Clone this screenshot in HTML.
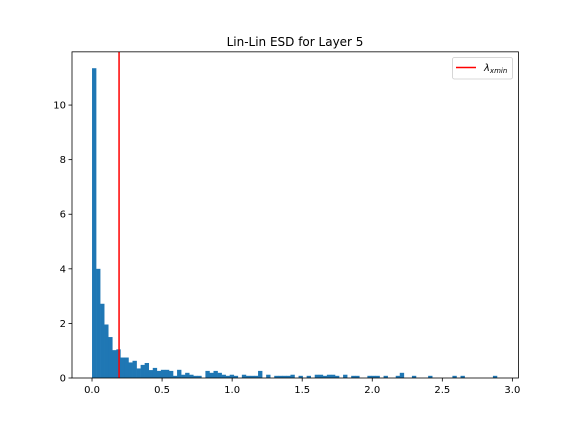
<!DOCTYPE html>
<html><head><meta charset="utf-8"><style>body{margin:0;background:#fff}svg{display:block;font-family:"DejaVu Sans","Liberation Sans",sans-serif}</style></head>
<body>
<svg id="chart" width="576" height="432" viewBox="0 0 576 432" xmlns="http://www.w3.org/2000/svg">
<rect width="576" height="432" fill="#fff"/>
<text x="295" y="46" text-anchor="middle" font-size="12">Lin-Lin ESD for Layer 5</text>
<g id="bars"></g>
<g id="axes"></g>
</svg>
<script>
const binStart = 0.0;
const binWidth = 0.0289;
const counts = [11.35,4.0,2.72,1.96,1.5,1.02,1.05,0.75,0.75,0.57,0.63,0.35,
0.48,0.55,0.29,0.37,0.26,0.30,0.30,0.26,0.08,0.30,0.12,0.19,0.12,0.08,0.08,0,
0.26,0.19,0.26,0.19,0.12,0.08,0.12,0.08,0,0.12,0.08,0.08,0.08,0.26,0,0.12,0,
0.08,0.08,0.08,0.08,0.12,0,0.08,0,0.08,0,0.12,0.12,0.08,0.12,0.12,0.08,0,0.12,0,
0.08,0.08,0,0,0.08,0.08,0.08,0,0.08,0,0,0.08,0.19,0,0,0.08,0,0,0,0.08,0,0,0,0,0,
0.08,0,0.08,0,0,0,0,0,0,0,0.08];
const xminValue = 0.193;
const xTicks = [0.0,0.5,1.0,1.5,2.0,2.5,3.0];
const xTickLabels = ["0.0","0.5","1.0","1.5","2.0","2.5","3.0"];
const yTicks = [0,2,4,6,8,10];
const yTickLabels = ["0","2","4","6","8","10"];

const L=72,R=518.4,T=51.84,B=378;
const xDomain=[-0.1429,3.043], yDomain=[0,11.95];
const sx=v=>L+(v-xDomain[0])/(xDomain[1]-xDomain[0])*(R-L);
const sy=v=>B-(v-yDomain[0])/(yDomain[1]-yDomain[0])*(B-T);
const NS="http://www.w3.org/2000/svg";
function mk(tag,attrs,parent){const e=document.createElementNS(NS,tag);for(const k in attrs)e.setAttribute(k,attrs[k]);parent.appendChild(e);return e;}
const bars=document.getElementById('bars'), axes=document.getElementById('axes');
counts.forEach((c,i)=>{
  if(c<=0)return;
  const x0=sx(binStart+i*binWidth), x1=sx(binStart+(i+1)*binWidth);
  const r=mk('rect',{x:x0,y:sy(c),width:x1-x0+0.3,height:sy(0)-sy(c),fill:'#1f77b4'},bars);
  
  
});
const vl=mk('line',{x1:sx(xminValue),x2:sx(xminValue),y1:T,y2:B,stroke:'#ff0000','stroke-width':1.5},axes);


const frame=mk('rect',{x:L,y:T,width:R-L,height:B-T,fill:'none',stroke:'#000','stroke-width':0.8},axes);


xTicks.forEach((t,i)=>{
  const x=sx(t);
  const tk=mk('line',{x1:x,x2:x,y1:B,y2:B+3.5,stroke:'#000','stroke-width':0.8},axes);
  
  
  const tx=mk('text',{x:x,y:B+15,'text-anchor':'middle','font-size':10},axes);
  tx.textContent=xTickLabels[i];
  
  
});
yTicks.forEach((t,i)=>{
  const y=sy(t);
  const tk=mk('line',{x1:L-3.5,x2:L,y1:y,y2:y,stroke:'#000','stroke-width':0.8},axes);
  
  
  const tx=mk('text',{x:L-6,y:y+3.5,'text-anchor':'end','font-size':10},axes);
  tx.textContent=yTickLabels[i];
  
  
});
const lg=mk('g',{},axes);


mk('rect',{x:452.5,y:57.5,width:60,height:21.5,rx:2,fill:'#fff',stroke:'#ccc','stroke-width':0.8},lg);
const ll=mk('line',{x1:456,x2:476,y1:67.5,y2:67.5,stroke:'#ff0000','stroke-width':1.5},lg);


const lt=mk('text',{x:484,y:71,'font-size':10,'font-style':'italic'},lg);


lt.innerHTML='λ<tspan font-size="7" dy="2">xmin</tspan>';
</script>
</body></html>
